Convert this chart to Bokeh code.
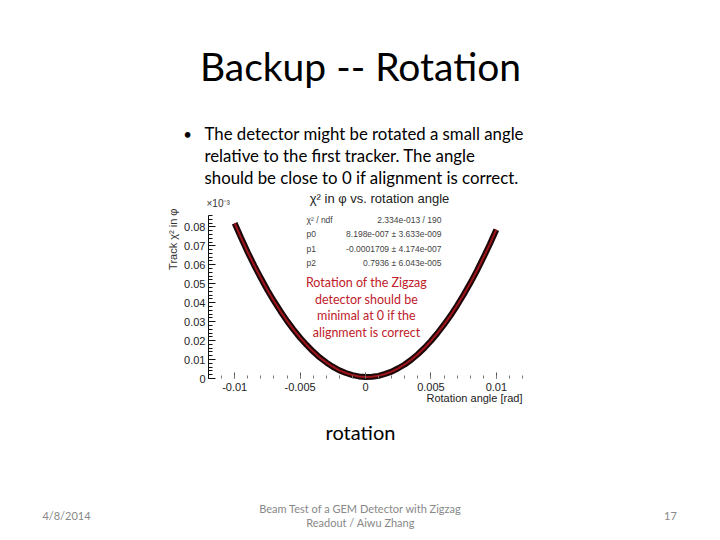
import math
from bokeh.plotting import figure
from bokeh.models import Label, FixedTicker, Range1d
from bokeh.embed import file_html
from bokeh.resources import INLINE

# ---- data ----
rotation_angle = [-0.0100, -0.0095, -0.0090, -0.0085, -0.0080, -0.0075, -0.0070, -0.0065,
                  -0.0060, -0.0055, -0.0050, -0.0045, -0.0040, -0.0035, -0.0030, -0.0025,
                  -0.0020, -0.0015, -0.0010, -0.0005, 0.0000, 0.0005, 0.0010, 0.0015,
                  0.0020, 0.0025, 0.0030, 0.0035, 0.0040, 0.0045, 0.0050, 0.0055,
                  0.0060, 0.0065, 0.0070, 0.0075, 0.0080, 0.0085, 0.0090, 0.0095, 0.0100]
chi2_e3 = [0.0819, 0.0741, 0.0666, 0.0596, 0.0530, 0.0467, 0.0409, 0.0355,
           0.0304, 0.0258, 0.0215, 0.0177, 0.0142, 0.0111, 0.0085, 0.0062,
           0.0043, 0.0029, 0.0018, 0.0011, 0.0008, 0.0009, 0.0014, 0.0024,
           0.0036, 0.0054, 0.0074, 0.0099, 0.0128, 0.0161, 0.0198, 0.0239,
           0.0284, 0.0332, 0.0385, 0.0442, 0.0502, 0.0567, 0.0636, 0.0708, 0.0785]

x_ticks = [-0.01, -0.005, 0, 0.005, 0.01]
x_tick_labels = ["-0.01", "-0.005", "0", "0.005", "0.01"]
y_ticks = [0, 0.01, 0.02, 0.03, 0.04, 0.05, 0.06, 0.07, 0.08]
y_tick_labels = ["0", "0.01", "0.02", "0.03", "0.04", "0.05", "0.06", "0.07", "0.08"]

stat_names = ["χ² / ndf", "p0", "p1", "p2"]
stat_values = ["2.334e-013 / 190", "8.198e-007 ± 3.633e-009",
               "-0.0001709 ± 4.174e-007", "0.7936 ± 6.043e-005"]

slide_title = "Backup -- Rotation"
bullet_lines = ["The detector might be rotated a small angle",
                "relative to the first tracker. The angle",
                "should be close to 0 if alignment is correct."]
note_lines = ["Rotation of the Zigzag", "detector should be",
              "minimal at 0 if the", "alignment is correct"]
caption = "rotation"
footer_date = "4/8/2014"
footer_center = ["Beam Test of a GEM Detector with Zigzag", "Readout / Aiwu Zhang"]
footer_page = "17"

# ---- geometry: the plot frame is the whole slide; the chart axes sit inside it ----
W, H = 720, 540
X_AX = (-0.012, 0.012)      # chart x extent
Y_AX = (0.0, 0.086)         # chart y extent
FL, FR, FT, FB = 208, 522, 215, 378   # chart box in slide px
kx = (X_AX[1] - X_AX[0]) / (FR - FL)
ky = (Y_AX[1] - Y_AX[0]) / (FB - FT)

p = figure(width=W, height=H,
           x_range=Range1d(X_AX[0] - FL * kx, X_AX[0] + (W - FL) * kx),
           y_range=Range1d(Y_AX[0] - (H - FB) * ky, Y_AX[0] + FB * ky),
           output_backend="svg", toolbar_location=None,
           min_border=0, min_border_left=0, min_border_right=0,
           min_border_top=0, min_border_bottom=0)
p.outline_line_color = None
p.xgrid.visible = False
p.ygrid.visible = False
p.background_fill_color = "white"
p.border_fill_color = "white"


def X(px):
    return X_AX[0] + (px - FL) * kx


def Y(py):
    return Y_AX[0] + (FB - py) * ky


# curve: dark points with red fit line
p.line(rotation_angle, chi2_e3, line_color="#1c0808", line_width=6)
p.line(rotation_angle, chi2_e3, line_color="#a0141c", line_width=2)

# axes placed at the chart's own origin
ax = p.xaxis[0]
ax.fixed_location = Y_AX[0]
ax.bounds = X_AX
ax.ticker = FixedTicker(ticks=x_ticks,
                        minor_ticks=[i * 0.001 for i in range(-12, 13)])
ax.major_label_overrides = {t: l for t, l in zip(x_ticks, x_tick_labels)}
ax.axis_line_color = None
ax.major_tick_in = 6
ax.major_tick_out = 0
ax.minor_tick_in = 3
ax.minor_tick_out = 0
ax.major_tick_line_color = "#555555"
ax.minor_tick_line_color = "#777777"
ax.major_label_text_font = "Liberation Sans"
ax.major_label_text_font_size = "11px"
ax.major_label_text_color = "#222222"
ax.major_label_standoff = 4

ay = p.yaxis[0]
ay.fixed_location = X_AX[0]
ay.bounds = Y_AX
ay.ticker = FixedTicker(ticks=y_ticks,
                        minor_ticks=[i * 0.002 for i in range(0, 44)])
ay.major_label_overrides = {t: l for t, l in zip(y_ticks, y_tick_labels)}
ay.axis_line_color = "#111111"
ay.major_tick_in = 7
ay.major_tick_out = 0
ay.minor_tick_in = 4
ay.minor_tick_out = 0
ay.major_tick_line_color = "#111111"
ay.minor_tick_line_color = "#111111"
ay.major_label_text_font = "Liberation Sans"
ay.major_label_text_font_size = "11px"
ay.major_label_text_color = "#222222"
ay.major_label_standoff = 3


def lab(text, px, py, size, font="Lato", color="black", align="center",
        style="normal", angle=0, baseline="middle"):
    p.add_layout(Label(x=X(px), y=Y(py), text=text, text_font=font,
                       text_font_size=size, text_color=color, text_align=align,
                       text_baseline=baseline, text_font_style=style, angle=angle))


# slide title and bullet
lab(slide_title, 360, 65, "39px")
lab("•", 187, 133, "15px")
for i, t in enumerate(bullet_lines):
    lab(t, 204, 133 + 22 * i, "16.8px", align="left")

# chart texts
lab("χ² in φ vs. rotation angle", 379, 198, "13px", font="Liberation Sans", color="#222222")
lab("×10⁻³", 206, 203, "10px", font="Liberation Sans", color="#333333", align="left")
lab("Track χ² in φ", 172, 208, "11px", font="Liberation Sans", color="#333333",
    align="right", angle=math.pi / 2)
lab("Rotation angle [rad]", 522, 397, "11px", font="Liberation Sans", color="#222222",
    align="right")
for i, (n, v) in enumerate(zip(stat_names, stat_values)):
    lab(n, 306, 219 + 14.5 * i, "8.5px", font="Liberation Sans", color="#444444", align="left")
    lab(v, 441, 219 + 14.5 * i, "8.5px", font="Liberation Sans", color="#444444", align="right")

for i, t in enumerate(note_lines):
    lab(t, 366, 282 + 16.7 * i, "12.5px", color="#c0202a")

# caption and footer
lab(caption, 360, 431, "20px")
lab(footer_date, 66, 515, "11px", color="#888888")
for i, t in enumerate(footer_center):
    lab(t, 360, 508 + 14 * i, "11px", color="#888888")
lab(footer_page, 670, 515, "11px", color="#888888")

open("out.html", "w").write(file_html(p, INLINE))
